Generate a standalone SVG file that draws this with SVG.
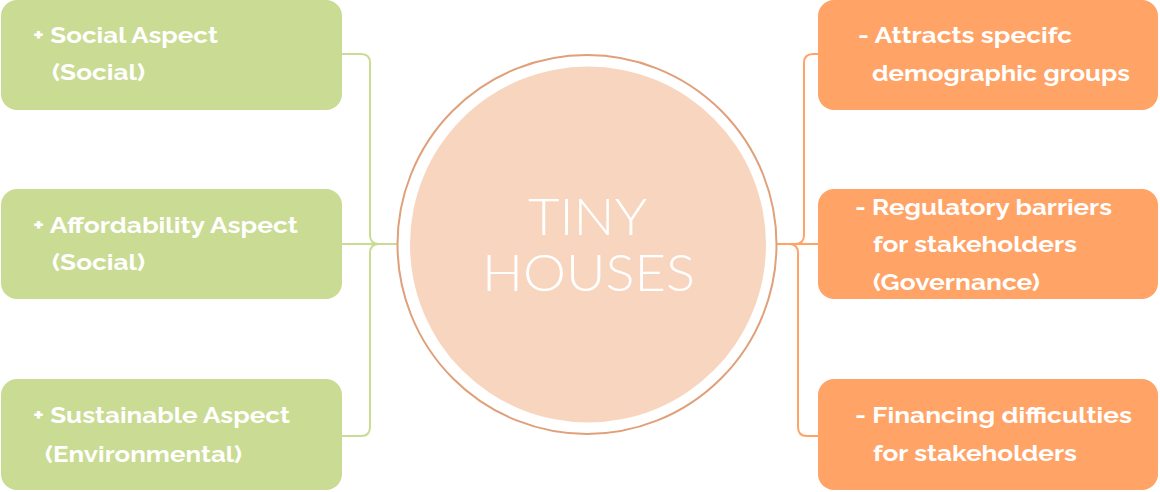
<svg xmlns="http://www.w3.org/2000/svg" width="1160" height="492" viewBox="0 0 1160 492">
<style>
.g{fill:#cadb94}
.o{fill:#ffa366}
.t{font-family:"Raleway","Lato","Liberation Sans",sans-serif;font-weight:700;font-size:23px;fill:#ffffff}
.c{font-family:"Lato","Liberation Sans",sans-serif;font-weight:300;font-size:51px;fill:#ffffff}
.lg{fill:none;stroke:#cadb94;stroke-width:2}
.lo{fill:none;stroke:#ffa366;stroke-width:2}
</style>
<rect width="1160" height="492" fill="#ffffff"/>
<g id="connectors">
<path class="lg" d="M342 54 H361 Q370 54 370 63 V235 Q370 244 379 244 H410"/>
<path class="lg" d="M342 244 H410"/>
<path class="lg" d="M342 436 H361 Q370 436 370 427 V253 Q370 244 379 244"/>
<path class="lo" d="M777 244 H795 Q804 244 804 235 V63 Q804 54 813 54 H818"/>
<path class="lo" d="M777 244 H818"/>
<path class="lo" d="M789 244 Q798 244 798 253 V427 Q798 436 807 436 H818"/>
</g>
<g id="center">
<circle cx="587" cy="244.5" r="189.5" fill="#ffffff" stroke="#e0a07a" stroke-width="2"/>
<circle cx="588" cy="244.5" r="178" fill="#f8d5be"/>
<text class="c" x="587.5" y="235" text-anchor="middle" textLength="119" lengthAdjust="spacingAndGlyphs">TINY</text>
<text class="c" x="588.5" y="291" text-anchor="middle" textLength="213" lengthAdjust="spacingAndGlyphs">HOUSES</text>
</g>
<g id="social">
<rect class="g" x="1" y="0" width="341" height="110" rx="16"/>
<text class="t" x="33" y="43" textLength="185" lengthAdjust="spacingAndGlyphs">+ Social Aspect</text>
<text class="t" x="52" y="80" textLength="93" lengthAdjust="spacingAndGlyphs">(Social)</text>
</g>
<g id="affordability">
<rect class="g" x="1" y="189" width="341" height="110" rx="16"/>
<text class="t" x="33" y="233" textLength="265" lengthAdjust="spacingAndGlyphs">+ Affordability Aspect</text>
<text class="t" x="52" y="270" textLength="93" lengthAdjust="spacingAndGlyphs">(Social)</text>
</g>
<g id="sustainable">
<rect class="g" x="1" y="379" width="341" height="111" rx="16"/>
<text class="t" x="33" y="423" textLength="257" lengthAdjust="spacingAndGlyphs">+ Sustainable Aspect</text>
<text class="t" x="45" y="462" textLength="197" lengthAdjust="spacingAndGlyphs">(Environmental)</text>
</g>
<g id="attracts">
<rect class="o" x="818" y="0" width="340" height="110" rx="16"/>
<text class="t" x="858" y="43" textLength="214" lengthAdjust="spacingAndGlyphs">- Attracts specifc</text>
<text class="t" x="872" y="81" textLength="258" lengthAdjust="spacingAndGlyphs">demographic groups</text>
</g>
<g id="regulatory">
<rect class="o" x="818" y="189" width="340" height="110" rx="16"/>
<text class="t" x="855" y="215" textLength="257" lengthAdjust="spacingAndGlyphs">- Regulatory barriers</text>
<text class="t" x="873" y="252" textLength="204" lengthAdjust="spacingAndGlyphs">for stakeholders</text>
<text class="t" x="873" y="290" textLength="167" lengthAdjust="spacingAndGlyphs">(Governance)</text>
</g>
<g id="financing">
<rect class="o" x="818" y="379" width="340" height="111" rx="16"/>
<text class="t" x="855" y="423" textLength="277" lengthAdjust="spacingAndGlyphs">- Financing difficulties</text>
<text class="t" x="873" y="461" textLength="204" lengthAdjust="spacingAndGlyphs">for stakeholders</text>
</g>
</svg>
